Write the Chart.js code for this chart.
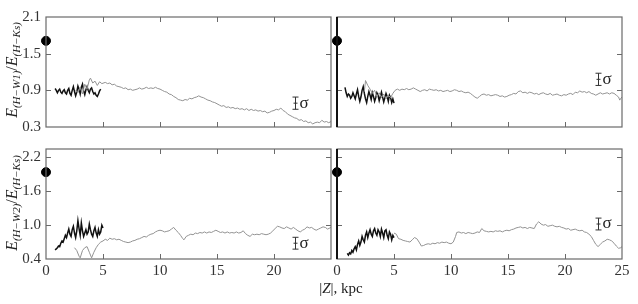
<!DOCTYPE html>
<html>
<head>
<meta charset="utf-8">
<script src="https://cdn.jsdelivr.net/npm/chart.js@4.4.0/dist/chart.umd.min.js"></script>
<style>
body { margin: 0; background: #fff; }
#wrap { position: relative; width: 638px; height: 304px; overflow: hidden; font-family: "Liberation Serif", "Times New Roman", serif; color: #222; }
canvas { position: absolute; left: 0; top: 0; }
.ytitle { position: absolute; width: 130px; height: 18px; line-height: 18px; text-align: center; font-size: 16px; transform: rotate(-90deg); white-space: nowrap; }
.ytitle sub { font-size: 11px; vertical-align: -3px; }
.xtitle { position: absolute; left: 291px; top: 280px; width: 100px; text-align: center; font-size: 15px; }
</style>
</head>
<body>
<div id="wrap">
  <canvas id="tl" width="638" height="304"></canvas>
  <canvas id="tr" width="638" height="304"></canvas>
  <canvas id="bl" width="638" height="304"></canvas>
  <canvas id="br" width="638" height="304"></canvas>
  <div class="ytitle" style="left:-53px;top:61px;"><i>E</i><sub><i>(H&minus;W1)</i></sub>/<i>E</i><sub><i>(H&minus;Ks)</i></sub></div>
  <div class="ytitle" style="left:-53px;top:194px;"><i>E</i><sub><i>(H&minus;W2)</i></sub>/<i>E</i><sub><i>(H&minus;Ks)</i></sub></div>
  <div class="xtitle">|<i>Z</i>|, kpc</div>
</div>
<script>
const SERIF = '"Liberation Serif", "Times New Roman", serif';

// tick values
const zTicks = [0, 5, 10, 15, 20, 25];
const topTicks = [0.3, 0.9, 1.5, 2.1];
const bottomTicks = [0.4, 1.0, 1.6, 2.2];

// black dots at |Z| = 0 (tl, tr, bl, br)
const dotE = [1.71, 1.71, 1.94, 1.94];

// sigma error bars (tl, tr, bl, br)
const sigmaZ = [21.8, 22.9, 21.8, 22.9];
const sigmaE = [0.69, 1.08, 0.68, 1.02];
const sigmaHalf = [0.1, 0.1, 0.105, 0.105];

// top left, W1: black = [|Z|, E], gray = [|Z|, E]
const tlBlack = [[0.8,0.93],[0.9,0.90],[1.0,0.86],[1.1,0.90],[1.2,0.92],[1.3,0.87],[1.4,0.85],[1.5,0.89],[1.6,0.91],[1.7,0.86],[1.8,0.84],[1.9,0.90],[2.0,0.93],[2.1,0.85],[2.2,0.82],[2.3,0.90],[2.4,0.96],[2.5,0.88],[2.6,0.81],[2.7,0.87],[2.8,0.97],[2.9,0.92],[3.0,0.84],[3.1,0.95],[3.2,1.00],[3.3,0.89],[3.4,0.83],[3.5,0.91],[3.6,0.96],[3.7,0.90],[3.8,0.86],[3.9,0.92],[4.0,0.94],[4.1,0.88],[4.2,0.84],[4.3,0.86],[4.4,0.82],[4.5,0.80],[4.6,0.84],[4.7,0.89],[4.8,0.92]];
const tlGray = [[2.6,0.90],[2.8,0.86],[3.0,0.95],[3.2,0.84],[3.4,1.00],[3.6,0.92],[3.8,1.07],[3.9,1.10],[4.1,1.02],[4.3,1.05],[4.5,0.98],[4.7,1.04],[4.9,1.01],[5.2,1.03],[5.4,1.01],[5.6,1.02],[5.8,0.99],[6.0,1.00],[6.2,0.97],[6.4,0.96],[6.6,0.95],[6.8,0.93],[7.0,0.94],[7.2,0.91],[7.4,0.92],[7.6,0.90],[7.8,0.91],[8.0,0.92],[8.2,0.94],[8.4,0.92],[8.6,0.93],[8.8,0.95],[9.0,0.93],[9.2,0.94],[9.4,0.93],[9.6,0.95],[9.8,0.93],[10.0,0.92],[10.2,0.90],[10.4,0.88],[10.6,0.87],[10.8,0.84],[11.0,0.83],[11.2,0.80],[11.4,0.78],[11.6,0.75],[11.8,0.74],[12.0,0.73],[12.2,0.75],[12.4,0.74],[12.6,0.77],[12.8,0.76],[13.0,0.78],[13.2,0.79],[13.4,0.81],[13.6,0.79],[13.8,0.78],[14.0,0.76],[14.2,0.74],[14.4,0.73],[14.6,0.71],[14.8,0.70],[15.0,0.68],[15.2,0.66],[15.4,0.64],[15.6,0.65],[15.8,0.62],[16.0,0.63],[16.2,0.61],[16.4,0.62],[16.6,0.60],[16.8,0.61],[17.0,0.59],[17.2,0.60],[17.4,0.58],[17.6,0.60],[17.8,0.57],[18.0,0.59],[18.2,0.57],[18.4,0.58],[18.6,0.56],[18.8,0.57],[19.0,0.55],[19.2,0.56],[19.4,0.53],[19.6,0.54],[19.8,0.56],[20.0,0.57],[20.2,0.59],[20.4,0.58],[20.6,0.61],[20.8,0.57],[21.0,0.55],[21.2,0.51],[21.4,0.49],[21.6,0.47],[21.8,0.45],[22.0,0.44],[22.2,0.41],[22.4,0.42],[22.6,0.39],[22.8,0.40],[23.0,0.37],[23.2,0.38],[23.4,0.35],[23.6,0.37],[23.8,0.38],[24.0,0.37],[24.2,0.41],[24.4,0.38],[24.6,0.39],[24.8,0.37],[25.0,0.39]];

// top right, W1
const trBlack = [[0.7,0.95],[0.8,0.86],[0.9,0.80],[1.0,0.84],[1.1,0.82],[1.2,0.77],[1.3,0.80],[1.4,0.86],[1.5,0.81],[1.6,0.76],[1.7,0.84],[1.8,0.91],[1.9,0.80],[2.0,0.72],[2.1,0.79],[2.2,0.90],[2.3,0.96],[2.4,0.85],[2.5,0.76],[2.6,0.70],[2.7,0.80],[2.8,0.88],[2.9,0.82],[3.0,0.75],[3.1,0.86],[3.2,0.80],[3.3,0.72],[3.4,0.78],[3.5,0.86],[3.6,0.82],[3.7,0.73],[3.8,0.80],[3.9,0.87],[4.0,0.79],[4.1,0.71],[4.2,0.78],[4.3,0.85],[4.4,0.80],[4.5,0.72],[4.6,0.82],[4.7,0.78],[4.8,0.70],[4.9,0.76],[5.0,0.69]];
const trGray = [[2.4,0.88],[2.5,1.06],[2.7,0.98],[2.9,0.92],[3.1,0.85],[3.3,0.90],[3.5,0.80],[3.7,0.86],[3.9,0.78],[4.1,0.84],[4.3,0.76],[4.5,0.82],[4.7,0.78],[4.9,0.85],[5.1,0.90],[5.3,0.92],[5.5,0.90],[5.7,0.92],[5.9,0.91],[6.1,0.93],[6.3,0.91],[6.5,0.92],[6.7,0.94],[6.9,0.92],[7.1,0.90],[7.3,0.88],[7.5,0.90],[7.7,0.91],[7.9,0.89],[8.1,0.92],[8.3,0.91],[8.5,0.90],[8.7,0.91],[8.9,0.89],[9.1,0.90],[9.3,0.88],[9.5,0.89],[9.7,0.90],[9.9,0.88],[10.1,0.89],[10.3,0.91],[10.5,0.90],[10.7,0.88],[10.9,0.89],[11.1,0.87],[11.3,0.86],[11.5,0.87],[11.7,0.85],[11.9,0.82],[12.1,0.79],[12.3,0.77],[12.5,0.80],[12.7,0.83],[12.9,0.84],[13.1,0.82],[13.3,0.83],[13.5,0.81],[13.7,0.82],[13.9,0.83],[14.1,0.82],[14.3,0.80],[14.5,0.81],[14.7,0.79],[14.9,0.80],[15.1,0.82],[15.3,0.83],[15.5,0.85],[15.7,0.84],[15.9,0.88],[16.1,0.89],[16.3,0.86],[16.5,0.87],[16.7,0.85],[16.9,0.87],[17.1,0.86],[17.3,0.84],[17.5,0.85],[17.7,0.83],[17.9,0.85],[18.1,0.86],[18.3,0.84],[18.5,0.83],[18.7,0.85],[18.9,0.82],[19.1,0.83],[19.3,0.84],[19.5,0.82],[19.7,0.81],[19.9,0.83],[20.1,0.82],[20.3,0.84],[20.5,0.85],[20.7,0.83],[20.9,0.87],[21.1,0.86],[21.3,0.89],[21.5,0.87],[21.7,0.88],[21.9,0.86],[22.1,0.88],[22.3,0.85],[22.5,0.84],[22.7,0.82],[22.9,0.84],[23.1,0.86],[23.3,0.84],[23.5,0.85],[23.7,0.86],[23.9,0.84],[24.1,0.86],[24.3,0.85],[24.5,0.82],[24.7,0.79],[24.8,0.74],[24.9,0.77],[25.0,0.79]];

// bottom left, W2
const blBlack = [[0.8,0.56],[0.9,0.58],[1.0,0.60],[1.1,0.63],[1.2,0.62],[1.3,0.68],[1.4,0.72],[1.5,0.70],[1.6,0.76],[1.7,0.82],[1.8,0.78],[1.9,0.86],[2.0,0.93],[2.1,0.84],[2.2,0.80],[2.3,0.92],[2.4,0.98],[2.5,0.86],[2.6,0.78],[2.7,0.90],[2.8,1.08],[2.9,0.94],[3.0,0.82],[3.1,1.04],[3.2,0.90],[3.3,0.80],[3.4,0.86],[3.5,0.92],[3.6,0.84],[3.7,0.88],[3.8,1.02],[3.9,0.92],[4.0,0.84],[4.1,0.80],[4.2,0.90],[4.3,0.96],[4.4,0.86],[4.5,0.80],[4.6,0.92],[4.7,0.84],[4.8,0.88],[4.9,1.00],[5.0,0.95]];
const blGray = [[2.5,0.60],[2.7,0.55],[2.9,0.45],[3.0,0.42],[3.2,0.55],[3.4,0.60],[3.6,0.62],[3.8,0.52],[4.0,0.42],[4.2,0.52],[4.4,0.60],[4.6,0.66],[4.8,0.70],[5.0,0.72],[5.2,0.75],[5.4,0.73],[5.6,0.77],[5.8,0.75],[6.0,0.76],[6.2,0.74],[6.4,0.75],[6.6,0.73],[6.8,0.71],[7.0,0.70],[7.2,0.69],[7.4,0.70],[7.6,0.72],[7.8,0.73],[8.0,0.75],[8.2,0.76],[8.4,0.78],[8.6,0.80],[8.8,0.79],[9.0,0.82],[9.2,0.84],[9.4,0.85],[9.6,0.88],[9.8,0.90],[10.0,0.91],[10.2,0.90],[10.4,0.88],[10.6,0.89],[10.8,0.90],[11.0,0.93],[11.2,0.96],[11.4,0.91],[11.6,0.87],[11.8,0.82],[12.0,0.76],[12.1,0.74],[12.3,0.80],[12.5,0.82],[12.7,0.84],[12.9,0.83],[13.1,0.86],[13.3,0.85],[13.5,0.87],[13.7,0.86],[13.9,0.88],[14.1,0.86],[14.3,0.88],[14.5,0.87],[14.7,0.89],[14.9,0.91],[15.1,0.89],[15.3,0.87],[15.5,0.88],[15.7,0.86],[15.9,0.88],[16.1,0.86],[16.3,0.87],[16.5,0.86],[16.7,0.88],[16.9,0.86],[17.1,0.87],[17.3,0.90],[17.5,0.85],[17.7,0.82],[17.9,0.80],[18.1,0.84],[18.3,0.83],[18.5,0.84],[18.7,0.83],[18.9,0.85],[19.1,0.84],[19.3,0.83],[19.5,0.84],[19.7,0.86],[19.9,0.90],[20.1,0.94],[20.3,0.98],[20.5,0.97],[20.7,0.95],[20.9,0.94],[21.1,0.97],[21.3,0.95],[21.5,0.93],[21.7,0.96],[21.9,0.93],[22.1,0.90],[22.3,0.88],[22.5,0.91],[22.7,0.93],[22.9,0.97],[23.1,0.95],[23.3,0.96],[23.5,0.93],[23.7,0.91],[23.9,0.93],[24.1,0.95],[24.3,0.97],[24.5,0.96],[24.7,0.93],[24.9,0.95],[25.0,0.96]];

// bottom right, W2
const brBlack = [[0.9,0.50],[1.0,0.47],[1.1,0.51],[1.2,0.49],[1.3,0.55],[1.4,0.52],[1.5,0.58],[1.6,0.62],[1.7,0.56],[1.8,0.66],[1.9,0.72],[2.0,0.64],[2.1,0.70],[2.2,0.80],[2.3,0.74],[2.4,0.70],[2.5,0.82],[2.6,0.88],[2.7,0.78],[2.8,0.86],[2.9,0.92],[3.0,0.84],[3.1,0.80],[3.2,0.90],[3.3,0.94],[3.4,0.86],[3.5,0.82],[3.6,0.92],[3.7,0.88],[3.8,0.80],[3.9,0.93],[4.0,0.86],[4.1,0.78],[4.2,0.90],[4.3,0.92],[4.4,0.82],[4.5,0.76],[4.6,0.88],[4.7,0.84],[4.8,0.74],[4.9,0.82],[5.0,0.78]];
const brGray = [[5.0,0.86],[5.2,0.84],[5.4,0.76],[5.6,0.75],[5.8,0.73],[6.0,0.72],[6.2,0.71],[6.4,0.70],[6.6,0.74],[6.8,0.78],[7.0,0.76],[7.2,0.70],[7.4,0.63],[7.6,0.64],[7.8,0.66],[8.0,0.67],[8.2,0.66],[8.4,0.68],[8.6,0.67],[8.8,0.69],[9.0,0.68],[9.2,0.70],[9.4,0.69],[9.6,0.70],[9.8,0.68],[10.0,0.67],[10.2,0.70],[10.4,0.80],[10.5,0.87],[10.7,0.88],[10.9,0.86],[11.1,0.87],[11.3,0.85],[11.5,0.87],[11.7,0.86],[11.9,0.85],[12.1,0.86],[12.3,0.88],[12.5,0.87],[12.7,0.94],[12.9,0.90],[13.1,0.89],[13.3,0.88],[13.5,0.89],[13.7,0.88],[13.9,0.90],[14.1,0.89],[14.3,0.90],[14.5,0.88],[14.7,0.90],[14.9,0.91],[15.1,0.90],[15.3,0.92],[15.5,0.93],[15.7,0.95],[15.9,0.96],[16.1,0.97],[16.3,0.95],[16.5,0.96],[16.7,0.94],[16.9,0.96],[17.1,0.95],[17.3,0.94],[17.5,1.02],[17.7,1.06],[17.9,1.02],[18.1,1.00],[18.3,1.01],[18.5,0.98],[18.7,0.99],[18.9,1.00],[19.1,0.98],[19.3,0.97],[19.5,0.98],[19.7,0.96],[19.9,0.95],[20.1,0.93],[20.3,0.94],[20.5,0.91],[20.7,0.92],[20.9,0.93],[21.1,0.91],[21.3,0.90],[21.5,0.91],[21.7,0.88],[21.9,0.87],[22.1,0.84],[22.3,0.80],[22.5,0.73],[22.7,0.66],[22.9,0.62],[23.1,0.66],[23.3,0.70],[23.5,0.72],[23.7,0.75],[23.9,0.74],[24.1,0.72],[24.3,0.68],[24.5,0.63],[24.7,0.59],[24.9,0.60],[25.0,0.62]];

const pts = list => list.map(p => ({ x: p[0], y: p[1] }));

const framePlugin = {
    id: 'frame',
    afterDraw(chart, args, opts) {
        const { ctx, chartArea: a } = chart;
        const x = chart.scales.x, y = chart.scales.y;
        ctx.save();
        ctx.strokeStyle = '#6a6a6a';
        ctx.lineWidth = 1;
        ctx.beginPath();
        x.ticks.forEach(t => {
            if (t.value <= x.min || t.value >= x.max) return;
            const px = Math.round(x.getPixelForValue(t.value)) + 0.5;
            ctx.moveTo(px, a.top); ctx.lineTo(px, a.top + 5);
            ctx.moveTo(px, a.bottom); ctx.lineTo(px, a.bottom - 5);
        });
        y.ticks.forEach(t => {
            if (t.value <= y.min || t.value >= y.max) return;
            const py = Math.round(y.getPixelForValue(t.value)) + 0.5;
            ctx.moveTo(a.left, py); ctx.lineTo(a.left + 5, py);
            ctx.moveTo(a.right, py); ctx.lineTo(a.right - 5, py);
        });
        ctx.stroke();
        ctx.lineWidth = 1.2;
        ctx.strokeRect(a.left, a.top, a.right - a.left, a.bottom - a.top);
        if (opts.thickLeft) {
            ctx.strokeStyle = '#111';
            ctx.lineWidth = 2;
            ctx.beginPath();
            ctx.moveTo(a.left, a.top); ctx.lineTo(a.left, a.bottom);
            ctx.stroke();
        }
        // sigma error bar
        const i = opts.idx;
        const sx = Math.round(x.getPixelForValue(sigmaZ[i])) + 0.5;
        const y1 = y.getPixelForValue(sigmaE[i] + sigmaHalf[i]);
        const y2 = y.getPixelForValue(sigmaE[i] - sigmaHalf[i]);
        ctx.strokeStyle = '#333';
        ctx.lineWidth = 1;
        ctx.beginPath();
        ctx.moveTo(sx, y1); ctx.lineTo(sx, y2);
        ctx.moveTo(sx - 3, y1); ctx.lineTo(sx + 3, y1);
        ctx.moveTo(sx - 3, y2); ctx.lineTo(sx + 3, y2);
        ctx.moveTo(sx - 2, (y1 + y2) / 2); ctx.lineTo(sx + 2, (y1 + y2) / 2);
        ctx.stroke();
        ctx.fillStyle = '#222';
        ctx.font = '17px ' + SERIF;
        ctx.textBaseline = 'middle';
        ctx.fillText('σ', sx + 4, (y1 + y2) / 2);
        ctx.restore();
    }
};

function makePanel(id, idx, rect, yMin, yMax, yTicks, gray, black, o) {
    const [l, r, t, b] = rect;
    const yW = o.yLabels ? 46 : 0;
    const xH = o.xLabels ? 30 : 0;
    new Chart(document.getElementById(id), {
        type: 'line',
        data: {
            datasets: [
                { data: pts(gray), borderColor: '#929292', borderWidth: 1, pointRadius: 0, tension: 0 },
                { data: pts(black), borderColor: '#111', borderWidth: 1.5, pointRadius: 0, tension: 0 },
                { data: [{ x: 0, y: dotE[idx] }], showLine: false, pointRadius: 4.5, pointBackgroundColor: '#000', pointBorderColor: '#000', clip: false }
            ]
        },
        options: {
            responsive: false,
            animation: false,
            events: [],
            layout: { padding: { left: l - yW, right: 638 - r, top: t, bottom: 304 - b - xH } },
            plugins: { legend: { display: false }, tooltip: { enabled: false }, frame: { idx: idx, thickLeft: o.thickLeft } },
            scales: {
                x: {
                    type: 'linear', min: 0, max: 25,
                    afterBuildTicks: s => { s.ticks = zTicks.map(v => ({ value: v })); },
                    afterFit: s => { s.height = xH; },
                    grid: { display: false, drawTicks: false },
                    border: { display: false },
                    ticks: {
                        display: o.xLabels, padding: 3, autoSkip: false, maxRotation: 0,
                        color: '#333', font: { family: SERIF, size: 15 },
                        callback: v => (o.hideLast && v === 25) ? '' : String(v)
                    }
                },
                y: {
                    type: 'linear', min: yMin, max: yMax,
                    afterBuildTicks: s => { s.ticks = yTicks.map(v => ({ value: v })); },
                    afterFit: s => { s.width = yW; },
                    grid: { display: false, drawTicks: false },
                    border: { display: false },
                    ticks: {
                        display: o.yLabels, padding: 5,
                        color: '#333', font: { family: SERIF, size: 15 },
                        callback: v => v.toFixed(1)
                    }
                }
            }
        },
        plugins: [framePlugin]
    });
}

makePanel('tl', 0, [46, 331, 17, 127], 0.3, 2.1, topTicks, tlGray, tlBlack, { yLabels: true, xLabels: false });
makePanel('tr', 1, [337, 622, 17, 127], 0.3, 2.1, topTicks, trGray, trBlack, { yLabels: false, xLabels: false, thickLeft: true });
makePanel('bl', 2, [46, 331, 149, 259], 0.4, 2.35, bottomTicks, blGray, blBlack, { yLabels: true, xLabels: true, hideLast: true });
makePanel('br', 3, [337, 622, 149, 259], 0.4, 2.35, bottomTicks, brGray, brBlack, { yLabels: false, xLabels: true, thickLeft: true });
</script>
</body>
</html>
